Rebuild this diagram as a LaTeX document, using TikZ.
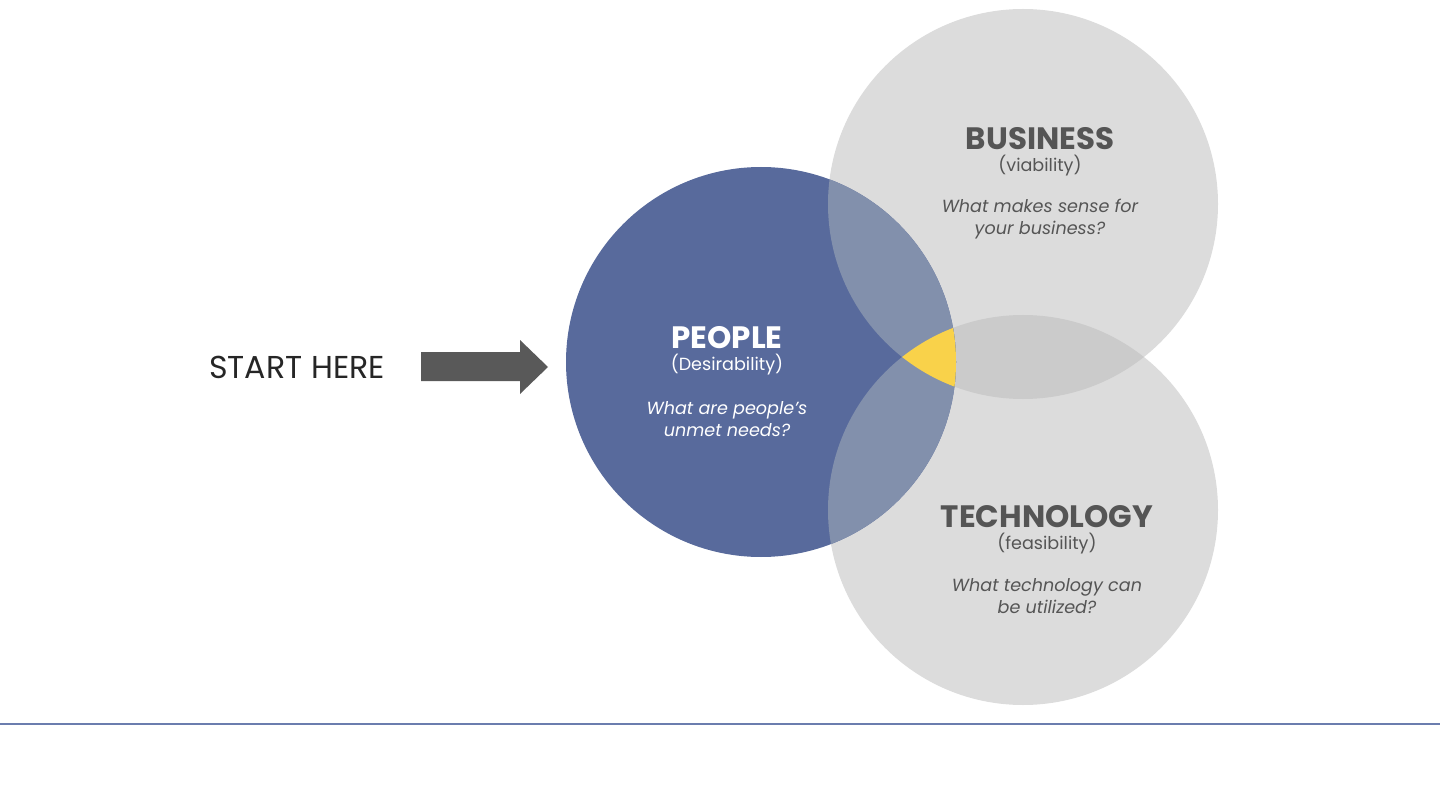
\documentclass[tikz,border=0pt]{standalone}
\usepackage{fontspec}
\setmainfont{Poppins}
\definecolor{peopleblue}{HTML}{586A9C}
\definecolor{circgrey}{HTML}{DCDCDC}
\definecolor{overgrey}{HTML}{CBCBCB}
\definecolor{overblue}{HTML}{8290AC}
\definecolor{centeryellow}{HTML}{F9D24A}
\definecolor{txtgrey}{HTML}{555555}
\definecolor{arrowgrey}{HTML}{595959}
\definecolor{linecol}{HTML}{6B7DAE}
\begin{document}
\begin{tikzpicture}[x=0.025cm,y=0.025cm,
    title/.style={font=\fontsize{22}{26}\selectfont\bfseries},
    sub/.style={font=\fontsize{12.5}{15}\selectfont},
    question/.style={font=\fontsize{12.5}{15.5}\selectfont\itshape,align=center}]
  \useasboundingbox (0,0) rectangle (1440,805);
  \def\R{195}
  \coordinate (peo) at (761,443);
  \coordinate (bus) at (1023,601);
  \coordinate (tec) at (1023,295);
  % circles
  \fill[circgrey] (bus) circle (\R);
  \fill[circgrey] (tec) circle (\R);
  \begin{scope}
    \clip (bus) circle (\R);
    \fill[overgrey] (tec) circle (\R);
  \end{scope}
  \fill[peopleblue] (peo) circle (\R);
  \begin{scope}
    \clip (peo) circle (\R);
    \fill[overblue] (bus) circle (\R);
    \fill[overblue] (tec) circle (\R);
    \clip (bus) circle (\R);
    \fill[centeryellow] (tec) circle (\R);
  \end{scope}
  % texts
  \node[title,text=white] (peot) at (727,467) {PEOPLE};
  \node[sub,text=white] (peos) at (727,440) {(Desirability)};
  \node[question,text=white] (peoq) at (727,386) {What are people’s\\unmet needs?};
  \node[title,text=txtgrey] (bust) at (1040,666) {BUSINESS};
  \node[sub,text=txtgrey] (buss) at (1040,639) {(viability)};
  \node[question,text=txtgrey] (busq) at (1040,586) {What makes sense for\\your business?};
  \node[title,text=txtgrey] (tect) at (1047,288) {TECHNOLOGY};
  \node[sub,text=txtgrey] (tecs) at (1047,261) {(feasibility)};
  \node[question,text=txtgrey] (tecq) at (1047,209) {What technology can\\be utilized?};
  \node[font=\fontsize{22.5}{26}\selectfont,text=black!85] (start) at (297,438) {START HERE};
  % arrow
  \fill[arrowgrey] (421,424) -- (520,424) -- (520,411) -- (548,438)
    -- (520,465) -- (520,453) -- (421,453) -- cycle;
  \draw[linecol,line width=1.5pt] (0,81) -- (1440,81);
\end{tikzpicture}
\end{document}
